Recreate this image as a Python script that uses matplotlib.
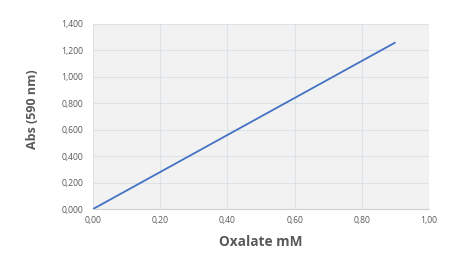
import matplotlib
matplotlib.use('Agg')
import matplotlib.pyplot as plt
from matplotlib.ticker import FuncFormatter

# datos de la curva de calibración
oxalate_mm = [0.0, 0.1, 0.2, 0.3, 0.4, 0.5, 0.6, 0.7, 0.8, 0.9]
absorbance = [0.0, 0.14, 0.28, 0.42, 0.56, 0.70, 0.84, 0.98, 1.12, 1.26]
x_ticks = [0.0, 0.2, 0.4, 0.6, 0.8, 1.0]
y_ticks = [0.0, 0.2, 0.4, 0.6, 0.8, 1.0, 1.2, 1.4]

plt.rcParams['font.family'] = ['Open Sans', 'DejaVu Sans']

fig = plt.figure(figsize=(4.56, 2.54), dpi=100)
ax = fig.add_axes([0.204, 0.177, 0.737, 0.729])
ax.set_facecolor('#f2f2f2')

ax.plot(oxalate_mm, absorbance, color='#4472c4', linewidth=1.3, solid_capstyle='butt')

ax.set_xlim(0, 1.0)
ax.set_ylim(0, 1.4)
ax.set_xticks(x_ticks)
ax.set_yticks(y_ticks)
ax.xaxis.set_major_formatter(FuncFormatter(lambda v, p: f'{v:.2f}'.replace('.', ',')))
ax.yaxis.set_major_formatter(FuncFormatter(lambda v, p: f'{v:,.3f}'.replace('.', ',')))
ax.grid(True, color='#dde1e8', linewidth=0.8)
ax.set_axisbelow(True)

for s in ['top', 'right', 'left']:
    ax.spines[s].set_visible(False)
ax.spines['bottom'].set_color('#d0d0d0')
ax.tick_params(length=0, labelsize=6.2, colors='#595959')
ax.tick_params(axis='y', pad=7)
ax.tick_params(axis='x', pad=5)

ax.set_xlabel('Oxalate mM', fontsize=9.8, fontweight='bold', color='#595959', labelpad=7)
ax.set_ylabel('Abs (590 nm)', fontsize=9, fontweight='bold', color='#595959')
ax.yaxis.set_label_coords(-0.16, 0.54)

fig.savefig('out.png', dpi=100, facecolor='white')
